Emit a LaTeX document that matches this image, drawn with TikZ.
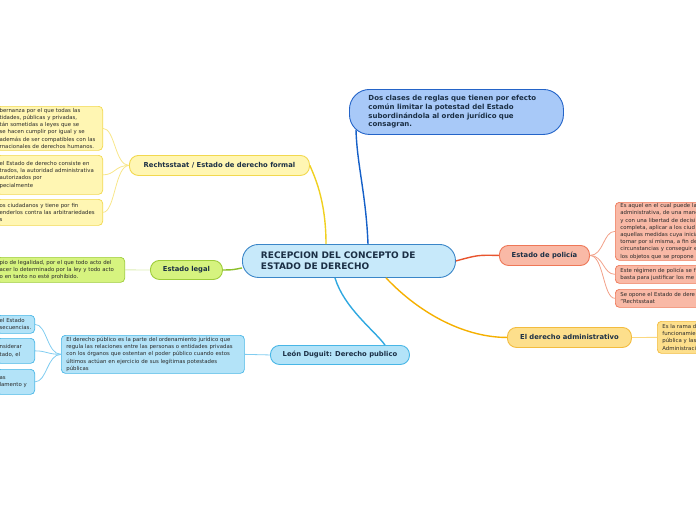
\documentclass[tikz,border=0pt]{standalone}
\usepackage{fontspec}
\setmainfont{DejaVu Sans}
\usetikzlibrary{calc}
\definecolor{txt}{HTML}{1B2F45}
\definecolor{sub}{HTML}{2A2A2A}
\definecolor{cfill}{HTML}{C7E9FA}\definecolor{cdraw}{HTML}{3A86C8}
\definecolor{tfill}{HTML}{A8C9F8}\definecolor{tdraw}{HTML}{2464C8}\definecolor{tline}{HTML}{1560C8}
\definecolor{yfill}{HTML}{FFF6B3}\definecolor{ydraw}{HTML}{F2D84E}\definecolor{yline}{HTML}{F0D020}\definecolor{ythin}{HTML}{F8E68A}
\definecolor{gfill}{HTML}{D6F37F}\definecolor{gdraw}{HTML}{9ECC3A}\definecolor{gline}{HTML}{8CBF2A}\definecolor{gthin}{HTML}{DCEDB4}
\definecolor{bfill}{HTML}{B3E3F8}\definecolor{bdraw}{HTML}{48B6E6}\definecolor{bline}{HTML}{2FA8E0}\definecolor{bthin}{HTML}{80CCF0}
\definecolor{sfill}{HTML}{F9B9A6}\definecolor{sdraw}{HTML}{EE7757}\definecolor{sline}{HTML}{E8542E}\definecolor{sthin}{HTML}{F2A088}
\definecolor{ofill}{HTML}{FDDF8C}\definecolor{odraw}{HTML}{F3BC3E}\definecolor{oline}{HTML}{F5B000}\definecolor{othin}{HTML}{FBD880}
\begin{document}
\begin{tikzpicture}[x=1pt,y=-1pt,
  main/.style={draw, line width=0.9pt, rounded corners=9pt, inner sep=0pt, anchor=north west,
    font=\fontsize{6.8}{8}\selectfont\bfseries, text=txt},
  subbox/.style={draw, line width=0.7pt, rounded corners=4pt, inner ysep=0pt, inner xsep=3pt,
    align=left, font=\fontsize{5.4}{7.2}\selectfont, text=sub},
  mline/.style={line width=1.4pt},
  tline/.style={line width=0.8pt}]
\useasboundingbox (0,0) rectangle (696,520);
\clip (0,0) rectangle (696,520);

% central topic
\node[main, fill=cfill, draw=cdraw, rounded corners=16pt, minimum width=213pt, minimum height=33pt,
  text width=176pt, align=left, font=\fontsize{9}{11.5}\selectfont\bfseries] (c) at (242,244)
  {RECEPCION DEL CONCEPTO DE\\ESTADO DE DERECHO};

% top right
\node[main, fill=tfill, draw=tdraw, rounded corners=20pt, minimum width=214pt, minimum height=45pt,
  text width=176pt, align=left, font=\fontsize{7}{8.6}\selectfont\bfseries] (tr) at (349,89)
  {Dos clases de reglas que tienen por efecto\\com\'un limitar la potestad del Estado\\subordin\'andola al orden jur\'idico que\\consagran.};

% main topics
\node[main, fill=yfill, draw=ydraw, minimum width=180pt, minimum height=20pt] (rs) at (129,155)
  {Rechtsstaat / Estado de derecho formal};
\node[main, fill=gfill, draw=gdraw, minimum width=72pt, minimum height=19pt] (el) at (150,260)
  {Estado legal};
\node[main, fill=bfill, draw=bdraw, minimum width=139pt, minimum height=19pt] (ld) at (270,345)
  {Le\'on Duguit: Derecho publico};
\node[main, fill=sfill, draw=sdraw, minimum width=90pt, minimum height=20pt] (pol) at (499,245)
  {Estado de polic\'ia};
\node[main, fill=ofill, draw=odraw, minimum width=124pt, minimum height=20pt] (adm) at (507,327)
  {El derecho administrativo};

% left yellow boxes
\node[subbox, fill=yfill, draw=ydraw, anchor=north east, text width=100pt, minimum height=44pt] (y1) at (103,106)
  {bernanza por el que todas las\\tidades, p\'ublicas y privadas,\\t\'an sometidas a leyes que se\\se hacen cumplir por igual y se\\ adem\'as de ser compatibles con las\\rnacionales de derechos humanos.};
\node[subbox, fill=yfill, draw=ydraw, anchor=north east, text width=100pt, minimum height=39pt] (y2) at (103,155)
  {el Estado de derecho consiste en\\trados, la autoridad administrativa\\ autorizados por\\pecialmente};
\node[subbox, fill=yfill, draw=ydraw, anchor=north east, text width=100pt, minimum height=26pt] (y3) at (103,199)
  {os ciudadanos y tiene por fin\\enderlos contra las arbitrariedades\\s};

% left green box
\node[subbox, fill=gfill, draw=gdraw, anchor=north east, text width=122pt, minimum height=25pt] (g1) at (125,257)
  {pio de legalidad, por el que todo acto del\\acer lo determinado por la ley y todo acto\\o en tanto no est\'e prohibido.};

% blue boxes
\node[subbox, fill=bfill, draw=bdraw, anchor=north west, inner xsep=5pt, text width=173pt, minimum height=38pt] (dp) at (61,335)
  {El derecho p\'ublico es la parte del ordenamiento jur\'idico que\\regula las relaciones entre las personas o entidades privadas\\con los \'organos que ostentan el poder p\'ublico cuando estos\\\'ultimos act\'uan en ejercicio de sus leg\'itimas potestades\\p\'ublicas};
\node[subbox, fill=bfill, draw=bdraw, anchor=north east, text width=32pt, minimum height=18pt] (b1) at (35,315)
  {el Estado\\secuencias.};
\node[subbox, fill=bfill, draw=bdraw, anchor=north east, text width=32pt, minimum height=25pt] (b2) at (35,338)
  {nsiderar\\tado, el};
\node[subbox, fill=bfill, draw=bdraw, anchor=north east, text width=32pt, minimum height=25pt] (b3) at (35,369)
  {as\\lamento y};

% salmon boxes
\node[subbox, fill=sfill, draw=sdraw, anchor=north west, inner xsep=5pt, text width=100pt, minimum height=58pt] (s1) at (615,202)
  {Es aquel en el cual puede la\\administrativa, de una mane\\y con una libertad de decisi\\completa, aplicar a los ciud\\aquellas medidas cuya inicia\\tomar por s\'i misma, a fin de\\circunstancias y conseguir e\\los objetos que se propone};
\node[subbox, fill=sfill, draw=sdraw, anchor=north west, inner xsep=5pt, text width=100pt, minimum height=18pt] (s2) at (615,265)
  {Este r\'egimen de polic\'ia se f\\basta para justificar los me};
\node[subbox, fill=sfill, draw=sdraw, anchor=north west, inner xsep=5pt, text width=100pt, minimum height=18pt] (s3) at (615,289)
  {Se opone el Estado de dere\\"Rechtsstaat};

% orange box
\node[subbox, fill=ofill, draw=odraw, anchor=north west, inner xsep=5pt, text width=100pt, minimum height=32pt] (o1) at (657,321)
  {Es la rama d\\funcionamie\\p\'ublica y las\\Administraci};

% main connectors
\draw[mline, draw=tline] ($(c.north west)+(126,0)$) .. controls ($(c.north west)+(124,-50)$) and ($(tr.south west)+(8,30)$) .. ($(tr.south west)+(7,-5)$);
\draw[mline, draw=yline] ($(c.north west)+(84,0)$) .. controls ($(c.north west)+(84,-45)$) and ($(rs.east)+(4,10)$) .. (rs.east);
\draw[mline, draw=gline] ($(c.west)+(0,7)$) .. controls ($(c.west)+(-10,9)$) .. (el.east);
\draw[mline, draw=bline] ($(c.south west)+(93,0)$) .. controls ($(c.south west)+(102,30)$) and ($(ld.north)+(35,-14)$) .. ($(ld.north)+(45,0)$);
\draw[mline, draw=sline] (c.east) .. controls ($(c.east)+(22,-6)$) .. (pol.west);
\draw[mline, draw=oline] ($(c.south west)+(144,0)$) .. controls ($(c.south west)+(180,38)$) and ($(adm.west)+(-40,0)$) .. (adm.west);

% sub connectors
\draw[tline, draw=ythin] (rs.west) .. controls ($(rs.west)+(-14,0)$) and ($(y1.east)+(12,0)$) .. (y1.east);
\draw[tline, draw=ythin] (rs.west) .. controls ($(rs.west)+(-14,0)$) and ($(y2.east)+(12,0)$) .. (y2.east);
\draw[tline, draw=ythin] (rs.west) .. controls ($(rs.west)+(-14,0)$) and ($(y3.east)+(12,0)$) .. (y3.east);
\draw[tline, draw=gthin] (el.west) -- (g1.east);
\draw[tline, draw=bthin] (ld.west) -- (dp.east);
\draw[tline, draw=bthin] (dp.west) .. controls ($(dp.west)+(-14,0)$) and ($(b1.east)+(12,0)$) .. (b1.east);
\draw[tline, draw=bthin] (dp.west) .. controls ($(dp.west)+(-14,0)$) and ($(b2.east)+(12,0)$) .. (b2.east);
\draw[tline, draw=bthin] (dp.west) .. controls ($(dp.west)+(-14,0)$) and ($(b3.east)+(12,0)$) .. (b3.east);
\draw[tline, draw=sthin] (pol.east) .. controls ($(pol.east)+(14,0)$) and ($(s1.west)+(-12,0)$) .. (s1.west);
\draw[tline, draw=sthin] (pol.east) .. controls ($(pol.east)+(14,0)$) and ($(s2.west)+(-12,0)$) .. (s2.west);
\draw[tline, draw=sthin] (pol.east) .. controls ($(pol.east)+(14,0)$) and ($(s3.west)+(-12,0)$) .. (s3.west);
\draw[tline, draw=othin] (adm.east) -- (o1.west);
\end{tikzpicture}
\end{document}
